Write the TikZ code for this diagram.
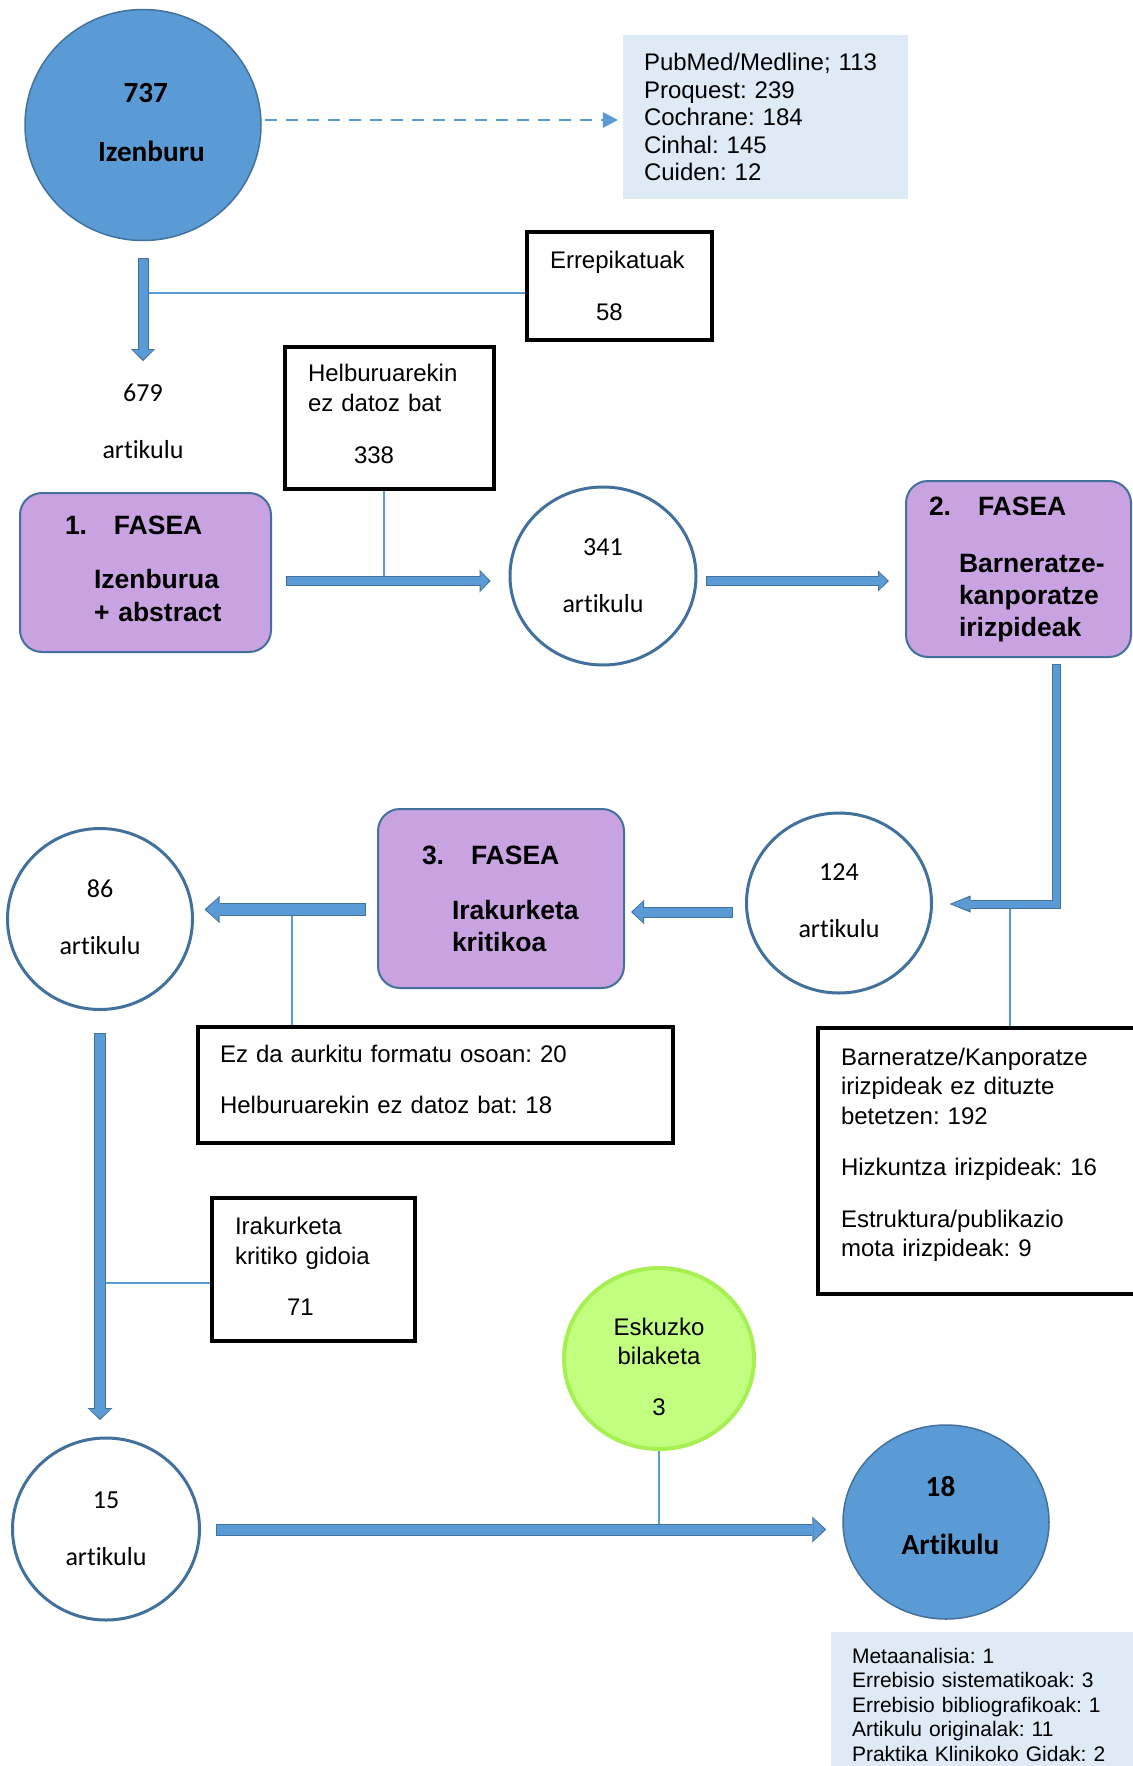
\documentclass[tikz,border=0pt]{standalone}
\usepackage{fontspec}
\setmainfont{Liberation Sans}
\newfontfamily\calfont[Ligatures=NoCommon]{Carlito}
\usetikzlibrary{arrows.meta,shapes.geometric}
\definecolor{bfill}{RGB}{91,155,213}
\definecolor{bord}{RGB}{65,113,156}
\definecolor{lav}{RGB}{201,162,226}
\definecolor{lbox}{RGB}{222,234,246}
\definecolor{gfill}{RGB}{194,255,128}
\definecolor{gbord}{RGB}{166,240,82}
\tikzset{
 bluecirc/.style={ellipse, fill=bfill, draw=bord, line width=1.5pt, inner sep=0pt, align=center, font=\calfont\bfseries\fontsize{29.2}{59}\selectfont},
 whitecirc/.style={ellipse, fill=white, draw=bord, line width=3pt, inner sep=0pt, align=center, font=\calfont\fontsize{26}{57}\selectfont},
 fasebox/.style={rectangle, rounded corners=22pt, fill=lav, draw=bord, line width=2pt, inner sep=0pt, align=left, font=\bfseries\fontsize{26.5}{32}\selectfont},
 blackbox/.style={rectangle, draw=black, line width=4.5pt, inner sep=0pt, align=left, font=\fontsize{24}{30}\selectfont},
 infobox/.style={rectangle, fill=lbox, inner sep=0pt, align=left},
 thinline/.style={draw=bfill, line width=1.3pt},
}
\newcommand\blockarrow[6]{%
 \pgfmathsetmacro\bwo{#1+2}\pgfmathsetmacro\hwo{#2+3}\pgfmathsetmacro\hlo{#3+2}%
 \pgfmathsetmacro\hwi{#2-1}\pgfmathsetmacro\hli{#3-1}\pgfmathsetmacro\ssi{#4+1}\pgfmathsetmacro\sei{#5+1.8}%
 \draw[bord, line width=\bwo pt, line join=miter, -{Triangle[width=\hwo pt,length=\hlo pt,line width=0pt]}, shorten <=#4pt, shorten >=#5pt] #6;
 \draw[bfill, line width=#1pt, line join=miter, -{Triangle[width=\hwi pt,length=\hli pt,line width=0pt]}, shorten <=\ssi pt, shorten >=\sei pt] #6;}
\newcommand\dn[1]{\rule[-#1]{0pt}{#1}}
\begin{document}
\frenchspacing
\begin{tikzpicture}[x=1pt,y=-1pt]
\useasboundingbox (0,0) rectangle (1132,1766);
\fill[white] (0,0) rectangle (1132,1766);

% nodes
\node[bluecirc, minimum width=236pt, minimum height=231pt] (c737) at (143,125) {\hspace*{5.6pt}737\\\hspace*{17pt}Izenburu\dn{6pt}};
\node[infobox, minimum width=285pt, minimum height=164pt, text width=243pt, font=\fontsize{24}{27.5}\selectfont] (pub) at (765.5,117) {PubMed/Medline; 113\\Proquest: 239\\Cochrane: 184\\Cinhal: 145\\Cuiden: 12};
\node[blackbox, minimum width=185pt, minimum height=108pt, text width=139pt] (erp) at (619.5,286) {Errepikatuak\\[22pt]\hspace*{46pt}58};
\node[align=center, inner sep=0pt, font=\calfont\fontsize{26}{57}\selectfont] (t679) at (143,421) {679\\artikulu};
\node[blackbox, minimum width=209pt, minimum height=142pt, text width=163pt] (helb) at (389.5,418) {Helburuarekin\\ez datoz bat\\[22pt]\hspace*{46pt}338\dn{8pt}};
\node[fasebox, minimum width=251pt, minimum height=159pt, text width=161pt, font=\bfseries\fontsize{26.5}{33}\selectfont] (f1) at (145.5,572.5) {\makebox[49pt][l]{1.}FASEA\\[21pt]\hspace*{29pt}Izenburua\\\hspace*{29pt}+ abstract\dn{8pt}};
\node[whitecirc, minimum width=186pt, minimum height=178pt] (c341) at (603,576) {341\\artikulu};
\node[fasebox, minimum width=225pt, minimum height=176pt, text width=179pt] (f2) at (1018.5,569) {\makebox[49pt][l]{2.}FASEA\\[25pt]\hspace*{30pt}Barneratze-\\\hspace*{30pt}kanporatze\\\hspace*{30pt}irizpideak};
\node[whitecirc, minimum width=185pt, minimum height=180pt] (c124) at (839,903) {124\\artikulu\dn{5pt}};
\node[fasebox, minimum width=246pt, minimum height=179pt, text width=158pt] (f3) at (501,898.5) {\makebox[49pt][l]{3.}FASEA\\[23pt]\hspace*{30pt}Irakurketa\\\hspace*{30pt}kritikoa};
\node[whitecirc, minimum width=185pt, minimum height=181pt] (c86) at (100,919) {86\\artikulu\dn{3pt}};
\node[blackbox, minimum width=475pt, minimum height=116pt, text width=431pt] (ezda) at (435.5,1085) {Ez da aurkitu formatu osoan: 20\\[21pt]Helburuarekin ez datoz bat: 18\dn{11pt}};
\node[blackbox, minimum width=332pt, minimum height=266pt, text width=286pt, font=\fontsize{24}{29.5}\selectfont] (bark) at (984,1161) {Barneratze/Kanporatze\\irizpideak ez dituzte\\betetzen: 192\\[22pt]Hizkuntza irizpideak: 16\\[22pt]Estruktura/publikazio\\mota irizpideak: 9\dn{17pt}};
\node[blackbox, minimum width=203pt, minimum height=143pt, text width=157pt] (irak) at (313.5,1269.5) {Irakurketa\\kritiko gidoia\\[21pt]\hspace*{52pt}71\dn{7pt}};
\node[whitecirc, minimum width=187pt, minimum height=182pt] (c15) at (106,1529) {15\\artikulu};
\node[ellipse, fill=gfill, draw=gbord, line width=4pt, inner sep=0pt, minimum width=190pt, minimum height=181pt, align=center, font=\fontsize{24}{29}\selectfont] (esk) at (659,1358.5) {\rule{0pt}{34.5pt}Eskuzko\\bilaketa\\[22pt]3};
\node[bluecirc, minimum width=206pt, minimum height=194pt, font=\calfont\bfseries\fontsize{29.2}{58}\selectfont] (c18) at (946,1522) {\hspace*{-11pt}18\\\hspace*{9pt}Artikulu\dn{14pt}};
\node[infobox, minimum width=319pt, minimum height=145pt, text width=277pt, font=\fontsize{21}{24.5}\selectfont] (meta) at (990.5,1704.5) {Metaanalisia: 1\\Errebisio sistematikoak: 3\\Errebisio bibliografikoak: 1\\Artikulu originalak: 11\\Praktika Klinikoko Gidak: 2};

% helper coordinates
\coordinate (ya) at (0,581);
\coordinate (yb) at (0,904);
\coordinate (yc) at (0,912);
\coordinate (yd) at (0,909.5);
\coordinate (ye) at (0,1529.5);
\coordinate (yf) at (0,120);
\coordinate (xb) at (1056.5,0);
\coordinate (a0e) at (143,361);
\coordinate (xl2) at (384,0);
\coordinate (xl3) at (1010,0);
\coordinate (xl4) at (292,0);
\coordinate (yl1) at (0,293);
\coordinate (yl5) at (0,1283);

% thin connector lines
\draw[thinline] (erp.west |- yl1) -- (c737 |- yl1);
\draw[thinline] (helb.south -| xl2) -- (xl2 |- ya);
\draw[thinline] (bark.north -| xl3) -- (xl3 |- yb);
\draw[thinline] (ezda.north -| xl4) -- (xl4 |- yd);
\draw[thinline] (irak.west |- yl5) -- (c86.south |- yl5);
\draw[thinline] (esk.south) -- (esk.south |- ye);

% dashed arrow
\draw[bfill, line width=2.5pt, dash pattern=on 12pt off 9pt, -{Triangle[width=16pt,length=15pt,line width=0pt]}, shorten <=3pt, shorten >=5pt] (c737.east |- yf) -- (pub.west |- yf);

% block arrows
\blockarrow{9}{21}{10}{16.5}{0}{(c737.south) -- (a0e)}
\blockarrow{8}{20}{9}{14}{18}{(f1.east |- ya) -- (c341.west |- ya)}
\blockarrow{8}{18}{9}{8}{16}{(c341.east |- ya) -- (f2.west |- ya)}
\blockarrow{7}{14}{19}{6}{16.5}{(f2.south -| xb) |- (c124.east |- yb)}
\blockarrow{9}{21}{11}{12.5}{6}{(c124.west |- yc) -- (f3.east |- yc)}
\blockarrow{11}{24}{13}{11}{10.5}{(f3.west |- yd) -- (c86.east |- yd)}
\blockarrow{10}{22}{10}{21.5}{16.5}{(c86.south) -- (c86.south |- c15.north)}
\blockarrow{10}{23}{12}{15}{16}{(c15.east |- ye) -- (c18.west |- ye)}
\end{tikzpicture}
\end{document}
